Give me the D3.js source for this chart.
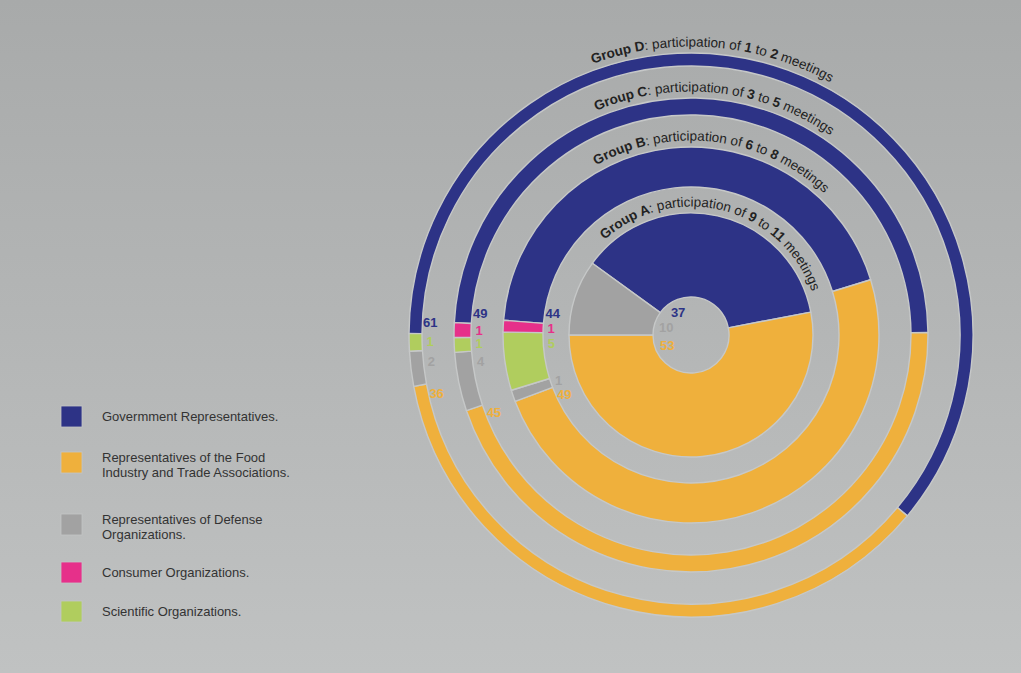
<!DOCTYPE html>
<html lang="en">
<head>
<meta charset="UTF-8">
<title>Participation in meetings by group</title>
<style>
  body { margin: 0; background: #b3b5b5; }
  svg { display: block; font-family: 'Liberation Sans', Arial, sans-serif; }
  text { white-space: pre; }
</style>
</head>
<body>
<svg id="chart" width="1021" height="673"></svg>
<script src="https://d3js.org/d3.v7.min.js"></script>
<script>
// categories, in legend order
const categories = ["Government", "Food Industry", "Defense", "Consumer", "Scientific"];
const legendLines = [
  ["Govermment Representatives."],
  ["Representatives of the Food", "Industry and Trade Associations."],
  ["Representatives of Defense", "Organizations."],
  ["Consumer Organizations."],
  ["Scientific Organizations."]
];
const colors = ["#2d3386", "#efb03c", "#a2a2a2", "#e6308a", "#b0cd5e"];

// share (%) of each category per group, in category order
const groupA = [37, 53, 10, 0, 0];
const groupB = [44, 49, 1, 1, 5];
const groupC = [49, 45, 4, 1, 1];
const groupD = [61, 36, 2, 0, 1];
const groupValues = [groupA, groupB, groupC, groupD];

const groupNames = ["Group A", "Group B", "Group C", "Group D"];
const rangeLow = [9, 6, 3, 1];
const rangeHigh = [11, 8, 5, 2];

// clockwise order of the slices inside each ring
const drawOrder = [0, 1, 2, 4, 3];

// ring layout
const cx = 691, cy = 335;
const ringInner = [38, 148, 220, 269];
const ringOuter = [122, 188, 237, 282];
const ringStart = [-54, -85.5, -87, -89.7];   // degrees, where the first slice starts
const titleCenter = [14, 7, 6, 4.5];          // degrees, centre of the curved title
const legendTop = [406, 452, 514, 562, 601];

const svg = d3.select("#chart");
const defs = svg.append("defs");

const grad = defs.append("linearGradient")
  .attr("id", "bg").attr("x1", 0).attr("y1", 0).attr("x2", 0).attr("y2", 1);
grad.append("stop").attr("offset", "0%").attr("stop-color", "#a8aaaa");
grad.append("stop").attr("offset", "100%").attr("stop-color", "#c0c2c2");
svg.append("rect").attr("width", 1021).attr("height", 673).attr("fill", "url(#bg)");

const rad = d => d * Math.PI / 180;
const pie = d3.pie().sort(null).value(d => d.value);
const g = svg.append("g").attr("transform", `translate(${cx},${cy})`);

// angle inside [lo, hi] (padded) closest, around the circle, to the 9 o'clock side
function labelAngle(d, r) {
  const pad = Math.min(11 / r, (d.endAngle - d.startAngle) / 2);
  const lo = d.startAngle + pad, hi = d.endAngle - pad;
  let best = null, bestDist = Infinity;
  [-0.5 * Math.PI, 1.5 * Math.PI].forEach(c => {
    const a = Math.max(lo, Math.min(c, hi));
    if (Math.abs(a - c) < bestDist) { bestDist = Math.abs(a - c); best = a; }
  });
  return best;
}

groupValues.forEach((vals, gi) => {
  const items = drawOrder.map(ci => ({ cat: ci, value: vals[ci] })).filter(d => d.value > 0);
  const s = rad(ringStart[gi]);
  const arcs = pie.startAngle(s).endAngle(s + 2 * Math.PI)(items);
  const arc = d3.arc().innerRadius(ringInner[gi]).outerRadius(ringOuter[gi]);

  g.append("g").selectAll("path")
    .data(arcs)
    .join("path")
    .attr("d", arc)
    .attr("fill", d => colors[d.data.cat])
    .attr("stroke", "#c6c8c8")
    .attr("stroke-width", 1.4)
    .attr("stroke-linejoin", "round");

  // value labels, pulled towards the 9 o'clock side of each ring
  const rl = ringInner[gi] - (gi === 0 ? 12 : 8);
  g.append("g").selectAll("text")
    .data(arcs)
    .join("text")
    .each(function (d) {
      const a = labelAngle(d, rl);
      d3.select(this)
        .attr("x", rl * Math.sin(a))
        .attr("y", -rl * Math.cos(a));
    })
    .attr("dy", "0.35em")
    .attr("text-anchor", "middle")
    .attr("font-size", 13)
    .attr("font-weight", "bold")
    .attr("fill", d => colors[d.data.cat])
    .text(d => d.data.value);
});

// curved titles above each ring
groupNames.forEach((name, gi) => {
  const r = ringOuter[gi] + 6.5;
  const a0 = rad(titleCenter[gi] - 100), a1 = rad(titleCenter[gi] + 100);
  const p = a => [cx + r * Math.sin(a), cy - r * Math.cos(a)];
  const [x0, y0] = p(a0), [x1, y1] = p(a1);
  defs.append("path")
    .attr("id", "title-" + gi)
    .attr("d", `M${x0},${y0} A${r},${r} 0 1 1 ${x1},${y1}`);

  const tp = svg.append("text")
    .attr("font-size", 13.5)
    .attr("fill", "#222")
    .append("textPath")
    .attr("href", "#title-" + gi)
    .attr("startOffset", "50%")
    .attr("text-anchor", "middle");
  tp.append("tspan").attr("font-weight", "bold").text(name);
  tp.append("tspan").text(": participation of ");
  tp.append("tspan").attr("font-weight", "bold").text(rangeLow[gi]);
  tp.append("tspan").text(" to ");
  tp.append("tspan").attr("font-weight", "bold").text(rangeHigh[gi]);
  tp.append("tspan").text(" meetings");
});

// legend
const legend = svg.append("g");
categories.forEach((c, i) => {
  const top = legendTop[i];
  legend.append("rect")
    .attr("x", 61).attr("y", top)
    .attr("width", 21).attr("height", 21)
    .attr("fill", colors[i])
    .attr("stroke", "#c4c6c6").attr("stroke-width", 0.8);
  const lines = legendLines[i];
  const t = legend.append("text")
    .attr("font-size", 13)
    .attr("fill", "#333");
  lines.forEach((ln, j) => {
    t.append("tspan")
      .attr("x", 102)
      .attr("y", top + 15 - (lines.length - 1) * 5.5 + j * 15.6)
      .text(ln);
  });
});
</script>
</body>
</html>
